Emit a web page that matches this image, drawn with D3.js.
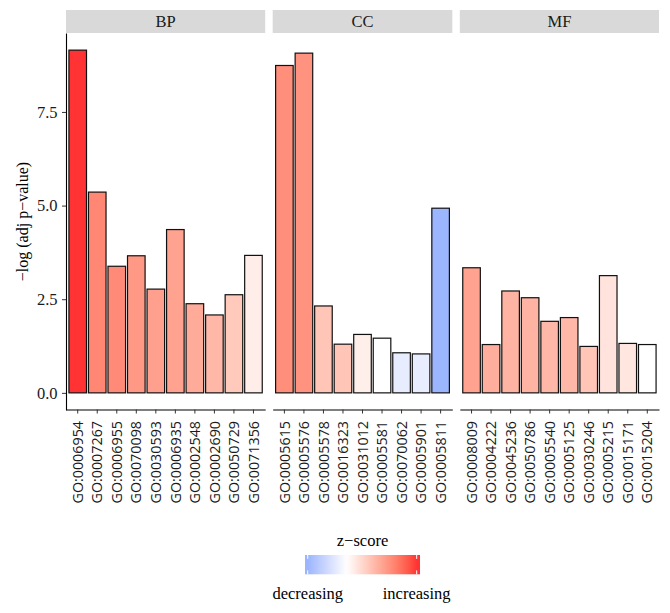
<!DOCTYPE html>
<html>
<head>
<meta charset="utf-8">
<script src="https://cdn.jsdelivr.net/npm/d3@7"></script>
<style>
  html, body { margin: 0; padding: 0; background: #fff; }
  svg { display: block; }
</style>
</head>
<body>
<script>
// ---------------- data ----------------
const facets = ["BP", "CC", "MF"];

const bpTerms = ["GO:0006954","GO:0007267","GO:0006955","GO:0070098","GO:0030593",
                 "GO:0006935","GO:0002548","GO:0002690","GO:0050729","GO:0071356"];
const bpValues = [9.15, 5.36, 3.38, 3.66, 2.77, 4.36, 2.38, 2.08, 2.62, 3.67];
const bpZ      = [3.40, 2.24, 2.19, 1.94, 1.80, 1.77, 1.60, 1.39, 1.05, 0.34];

const ccTerms = ["GO:0005615","GO:0005576","GO:0005578","GO:0016323","GO:0031012",
                 "GO:0005581","GO:0070062","GO:0005901","GO:0005811"];
const ccValues = [8.74, 9.07, 2.32, 1.30, 1.56, 1.46, 1.07, 1.04, 4.93];
const ccZ      = [2.13, 2.04, 1.12, 1.12, 0.32, 0.00, -0.48, -0.45, -1.89];

const mfTerms = ["GO:0008009","GO:0004222","GO:0045236","GO:0050786","GO:0005540",
                 "GO:0005125","GO:0030246","GO:0005215","GO:0015171","GO:0015204"];
const mfValues = [3.34, 1.29, 2.72, 2.54, 1.91, 2.01, 1.24, 3.13, 1.32, 1.29];
const mfZ      = [1.77, 1.55, 1.46, 1.46, 1.39, 1.36, 1.12, 0.54, 0.49, 0.00];

const yTicks = [0, 2.5, 5.0, 7.5];
const yTitle = "\u2212log (adj p\u2212value)";
const legendTitle = "z\u2212score";
const legendLabels = ["decreasing", "increasing"];

// ---------------- build ----------------
const panels = [
  {name: facets[0], terms: bpTerms, values: bpValues, z: bpZ},
  {name: facets[1], terms: ccTerms, values: ccValues, z: ccZ},
  {name: facets[2], terms: mfTerms, values: mfValues, z: mfZ}
];

const W = 670, H = 613;
const plotLeft = 66, plotRight = 659, gap = 7.5;
const panelTop = 33, panelBottom = 410;
const stripTop = 10;

const svg = d3.select("body").append("svg").attr("width", W).attr("height", H);

const serif = "'Liberation Serif', 'Times New Roman', serif";
const sans = "'Open Sans', 'Noto Sans', sans-serif";

const allVals = panels.flatMap(p => p.values);
const allZ = panels.flatMap(p => p.z);
const vmax = d3.max(allVals);
const yExp = vmax * 0.05;
const y = d3.scaleLinear().domain([-yExp, vmax + yExp]).range([panelBottom, panelTop]);

const zmin = d3.min(allZ), zmax = d3.max(allZ);
const color = d3.scaleLinear()
  .domain([zmin, 0, zmax])
  .range(["#9bb5ff", "#ffffff", "#ff3333"])
  .interpolate(d3.interpolateLab)
  .clamp(true);

// panel widths proportional to number of bars
const totalUnits = d3.sum(panels, p => p.terms.length + 0.2);
const unit = (plotRight - plotLeft - gap * (panels.length - 1)) / totalUnits;
let cursor = plotLeft;
panels.forEach(p => {
  p.x0 = cursor;
  p.x1 = cursor + unit * (p.terms.length + 0.2);
  cursor = p.x1 + gap;
  p.x = d3.scaleBand().domain(p.terms).range([p.x0, p.x1])
          .paddingInner(0.1).paddingOuter(0.15);
});

panels.forEach((p, pi) => {
  const g = svg.append("g");
  // strip
  g.append("rect")
    .attr("x", p.x0).attr("y", stripTop)
    .attr("width", p.x1 - p.x0).attr("height", panelTop - stripTop)
    .attr("fill", "#d9d9d9");
  g.append("text")
    .attr("x", (p.x0 + p.x1) / 2).attr("y", 27.2)
    .attr("text-anchor", "middle")
    .attr("font-family", serif).attr("font-size", 16.5)
    .attr("fill", "#1a1a1a")
    .text(p.name);

  // bars
  g.selectAll("rect.bar")
    .data(p.terms.map((t, i) => ({t, v: p.values[i], z: p.z[i]})))
    .enter().append("rect")
    .attr("class", "bar")
    .attr("x", d => p.x(d.t))
    .attr("width", p.x.bandwidth())
    .attr("y", d => y(d.v))
    .attr("height", d => y(0) - y(d.v))
    .attr("fill", d => color(d.z))
    .attr("stroke", "#111")
    .attr("stroke-width", 1.2);

  // x axis
  const ax = g.append("g").attr("transform", `translate(0,${panelBottom - 0.5})`)
    .call(d3.axisBottom(p.x).tickSize(4).tickSizeOuter(0).tickPadding(7));
  ax.select(".domain").attr("stroke", "#000").attr("stroke-width", 1.1);
  ax.selectAll(".tick line").attr("stroke", "#333").attr("stroke-width", 1);
  ax.selectAll(".tick text")
    .attr("font-family", sans).attr("font-size", 14.3)
    .attr("fill", "#1a1a1a")
    .attr("text-anchor", "end")
    .attr("transform", "rotate(-90)")
    .attr("x", -11.5).attr("y", 0).attr("dy", "0.36em");

  // y axis on first panel
  if (pi === 0) {
    const ay = g.append("g").attr("transform", `translate(${p.x0},0)`)
      .call(d3.axisLeft(y).tickValues(yTicks).tickFormat(d3.format(".1f"))
              .tickSize(4).tickSizeOuter(0).tickPadding(4.5));
    ay.select(".domain").attr("stroke", "#000").attr("stroke-width", 1.1);
    ay.selectAll(".tick line").attr("stroke", "#333");
    ay.selectAll(".tick text")
      .attr("font-family", serif).attr("font-size", 16.5).attr("fill", "#1a1a1a");
  }
});

// y title
svg.append("text")
  .attr("transform", `translate(28,${(panelTop + panelBottom) / 2}) rotate(-90)`)
  .attr("text-anchor", "middle")
  .attr("font-family", serif).attr("font-size", 16)
  .attr("fill", "#000")
  .text(yTitle);

// ---------------- legend ----------------
const lx = d3.scaleLinear().domain([zmin, zmax]).range([307.7, 416.7]);
const barX0 = 305, barX1 = 420, barY0 = 555, barY1 = 574.3;
const defs = svg.append("defs");
const grad = defs.append("linearGradient").attr("id", "zgrad")
  .attr("x1", "0%").attr("x2", "100%").attr("y1", "0%").attr("y2", "0%");
d3.range(0, 41).forEach(i => {
  const f = i / 40;
  const px = barX0 + f * (barX1 - barX0);
  grad.append("stop").attr("offset", (f * 100) + "%").attr("stop-color", color(lx.invert(px)));
});
const lg = svg.append("g");
lg.append("text")
  .attr("x", (barX0 + barX1) / 2).attr("y", 546)
  .attr("text-anchor", "middle")
  .attr("font-family", serif).attr("font-size", 16.5).attr("fill", "#000")
  .text(legendTitle);
lg.append("rect")
  .attr("x", barX0).attr("y", barY0)
  .attr("width", barX1 - barX0).attr("height", barY1 - barY0)
  .attr("fill", "url(#zgrad)");
[zmin, zmax].forEach(v => {
  lg.append("line").attr("x1", lx(v)).attr("x2", lx(v)).attr("y1", barY0).attr("y2", barY0 + 3.9)
    .attr("stroke", "#fff").attr("stroke-width", 1);
  lg.append("line").attr("x1", lx(v)).attr("x2", lx(v)).attr("y1", barY1 - 3.9).attr("y2", barY1)
    .attr("stroke", "#fff").attr("stroke-width", 1);
});
lg.selectAll("text.lab").data([zmin, zmax]).enter().append("text")
  .attr("class", "lab")
  .attr("x", d => lx(d)).attr("y", 599)
  .attr("text-anchor", "middle")
  .attr("font-family", serif).attr("font-size", 16.5).attr("fill", "#000")
  .text((d, i) => legendLabels[i]);
</script>
</body>
</html>
